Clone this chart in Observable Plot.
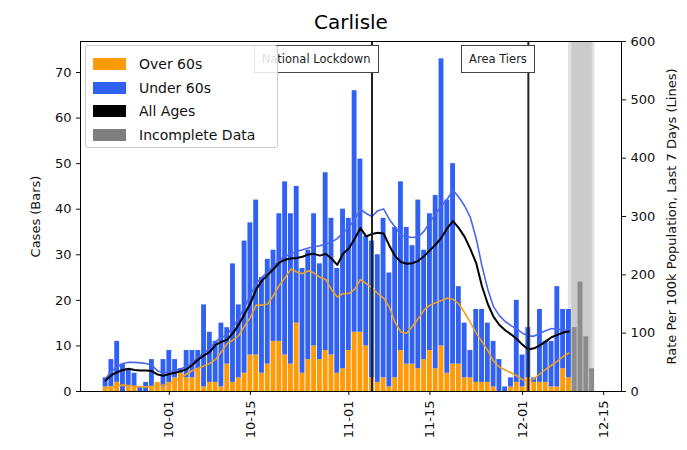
<!DOCTYPE html>
<html><head><meta charset="utf-8">
<script src="https://cdn.jsdelivr.net/npm/d3@7"></script>
<script src="https://cdn.jsdelivr.net/npm/@observablehq/plot@0.6"></script>
<style>
body{margin:0;background:#fff;font-family:"DejaVu Sans",sans-serif;}
#wrap{position:relative;width:687px;height:450px;overflow:hidden;}
.ann{position:absolute;top:45px;border:1px solid #444;background:#fff;font-size:11.5px;line-height:14px;padding:6px 7px;white-space:nowrap;color:#222;}
#legend{position:absolute;left:85px;top:45px;width:191px;height:101px;background:rgba(255,255,255,0.85);border:1px solid #ccc;border-radius:3px;}
.li{position:absolute;left:7px;height:16px;font-size:14px;line-height:16px;color:#111;}
.li span.p{position:absolute;left:0;top:2px;width:33px;height:12px;}
.li span.t{position:absolute;left:46px;top:0;white-space:nowrap;}
</style></head><body><div id="wrap"></div>
<script>
// ---- data ----
const startDate = "2020-09-20"; // first day with data
const overCases = [1,1,2,0,1,1,0,0,1,2, 1,2,3,4,3,3,5,1,2,2, 1,6,2,3,4,8,8,4,6,11, 11,8,6,15,4,7,10,7,9,8, 4,5,9,13,13,10,3,2,3,1, 3,9,6,6,5,7,9,5,10,4, 6,6,3,3,2,2,2,1,0,0, 1,2,1,3,2,2,2,1,1,5, 3];
const underCases = [2,6,9,6,4,3,1,2,6,0, 6,7,4,1,6,6,4,18,11,9, 14,8,26,16,29,29,34,21,23,20, 28,38,33,30,23,24,29,21,39,30, 23,35,29,53,38,24,30,28,35,25, 33,37,30,26,37,24,30,38,63,38, 44,17,12,6,16,16,13,10,7,1, 2,18,7,11,1,16,9,10,22,13, 15];
const incompleteDates = ["2020-12-10","2020-12-11","2020-12-12","2020-12-13"];
const incompleteCases = [14,24,12,5];
const rateAll = [19,28,33,37,39,37,36,36,35,29, 27,30,32,35,38,46,55,62,68,80, 85,89,100,115,133,151,175,190,200,210, 221,226,228,229,231,235,236,233,236,228, 217,236,245,262,280,266,270,272,271,250, 232,222,219,220,224,232,242,252,264,280, 292,280,265,244,220,180,150,128,114,105, 98,90,80,72,74,79,86,93,97,101, 103];
const rateUnder = [22,35,42,48,50,50,49,48,45,35, 32,34,36,39,43,50,59,66,74,86, 92,98,110,126,145,165,185,196,205,215, 225,232,236,240,243,246,248,250,253,256, 262,272,282,295,313,305,300,310,313,295, 282,268,265,264,265,275,290,305,318,330, 345,333,318,298,262,215,175,145,130,120, 113,107,100,95,95,100,104,108,107,105, 105];
const rateOver = [5,8,10,11,10,9,8,8,9,10, 11,14,18,24,30,36,40,44,48,55, 68,82,88,96,112,127,148,148,150,165, 182,195,210,205,202,207,203,196,192,175, 162,168,168,175,192,185,178,168,160,145, 118,102,100,112,125,140,148,152,156,160, 158,150,135,118,100,85,70,52,42,37, 32,27,20,18,22,30,38,45,52,60, 66];
const events = [{date:"2020-11-05", label:"National Lockdown"}, {date:"2020-12-02", label:"Area Tiers"}];
const incompleteSpan = ["2020-12-08T22:00Z","2020-12-13T12:00Z"];
const xTickLabels = ["2020-10-01","2020-10-15","2020-11-01","2020-11-15","2020-12-01","2020-12-15"];
const leftTicks = [0,10,20,30,40,50,60,70];
const rightTicks = [0,100,200,300,400,500,600];
const title = "Carlisle";

// ---- build tables ----
const DAY = 864e5;
const t0 = new Date(startDate + "T00:00Z");
const days = overCases.map((_, i) => new Date(+t0 + i * DAY));
const barRows = [];
days.forEach((d, i) => {
  barRows.push({date: d, y1: 0, y2: overCases[i], grp: "over"});
  barRows.push({date: d, y1: overCases[i], y2: overCases[i] + underCases[i], grp: "under"});
});
incompleteDates.forEach((s, i) => barRows.push({date: new Date(s + "T00:00Z"), y1: 0, y2: incompleteCases[i], grp: "inc"}));
const colors = {over: "#ff9a08", under: "#3161f2", inc: "#8c8c8c"};
const yMax = 76.8, k = yMax / 600;
const lineRows = [];
days.forEach((d, i) => {
  lineRows.push({date: d, rate: rateOver[i], s: "over"});
  lineRows.push({date: d, rate: rateUnder[i], s: "under"});
  lineRows.push({date: d, rate: rateAll[i], s: "all"});
});
const ev = events.map(e => ({date: new Date(e.date + "T00:00Z"), label: e.label}));

const chart = Plot.plot({
  width: 687, height: 450,
  marginTop: 41, marginBottom: 59, marginLeft: 80, marginRight: 66,
  style: {fontFamily: "DejaVu Sans, sans-serif", fontSize: "13px", background: "white", color: "#111"},
  x: {type: "utc", domain: [new Date("2020-09-15T16:00Z"), new Date("2020-12-18T02:00Z")]},
  y: {domain: [0, yMax]},
  marks: [
    Plot.rect([incompleteSpan], {x1: d => new Date(d[0]), x2: d => new Date(d[1]), fill: "#e2e2e2"}),
    Plot.rect([incompleteSpan], {x1: d => new Date(+new Date(d[0]) + 0.6*DAY), x2: d => new Date(+new Date(d[1]) - 0.5*DAY), fill: "#cbcbcb"}),
    Plot.rect(barRows, {x1: d => new Date(+d.date - 0.42*DAY), x2: d => new Date(+d.date + 0.42*DAY), y1: "y1", y2: "y2", fill: d => colors[d.grp]}),
    Plot.line(lineRows.filter(d => d.s === "over"), {x: "date", y: d => d.rate * k, stroke: "#f0a020", strokeWidth: 1.6}),
    Plot.line(lineRows.filter(d => d.s === "under"), {x: "date", y: d => d.rate * k, stroke: "#4b66ea", strokeWidth: 1.6}),
    Plot.line(lineRows.filter(d => d.s === "all"), {x: "date", y: d => d.rate * k, stroke: "#000", strokeWidth: 2}),
    Plot.ruleX(ev, {x: "date", stroke: "#222", strokeWidth: 2}),
    Plot.frame({stroke: "#000"}),
    Plot.axisY(leftTicks, {anchor: "left", tickSize: 4, label: "Cases (Bars)", labelAnchor: "center", labelOffset: 50, labelArrow: "none"}),
    Plot.axisY(rightTicks.map(t => t * k), {anchor: "right", tickSize: 4, tickFormat: d => String(Math.round(d / k)), label: "Rate Per 100k Population, Last 7 Days (Lines)", labelAnchor: "center", labelOffset: 54, labelArrow: "none"}),
    Plot.axisX(xTickLabels.map(s => new Date(s + "T00:00Z")), {anchor: "bottom", tickSize: 4, tickFormat: d3.utcFormat("%m-%d"), tickRotate: -90, label: null}),
    Plot.text([title], {frameAnchor: "top", lineAnchor: "middle", dy: -19, fontSize: 20, fill: "#000"})
  ]
});
const wrap = document.getElementById("wrap");
wrap.appendChild(chart);
const xs = chart.scale("x");
ev.forEach(e => {
  const div = document.createElement("div");
  div.className = "ann";
  div.textContent = e.label;
  div.style.right = (687 - (xs.apply(e.date) + 7)) + "px";
  wrap.appendChild(div);
});
const legend = document.createElement("div");
legend.id = "legend";
const items = [["Over 60s", colors.over], ["Under 60s", colors.under], ["All Ages", "#000"], ["Incomplete Data", "#7f7f7f"]];
items.forEach(([t, c], i) => {
  const li = document.createElement("div");
  li.className = "li";
  li.style.top = (10 + i * 23.5) + "px";
  const p = document.createElement("span"); p.className = "p"; p.style.background = c;
  const s = document.createElement("span"); s.className = "t"; s.textContent = t;
  li.appendChild(p); li.appendChild(s);
  legend.appendChild(li);
});
wrap.appendChild(legend);
</script></body></html>
